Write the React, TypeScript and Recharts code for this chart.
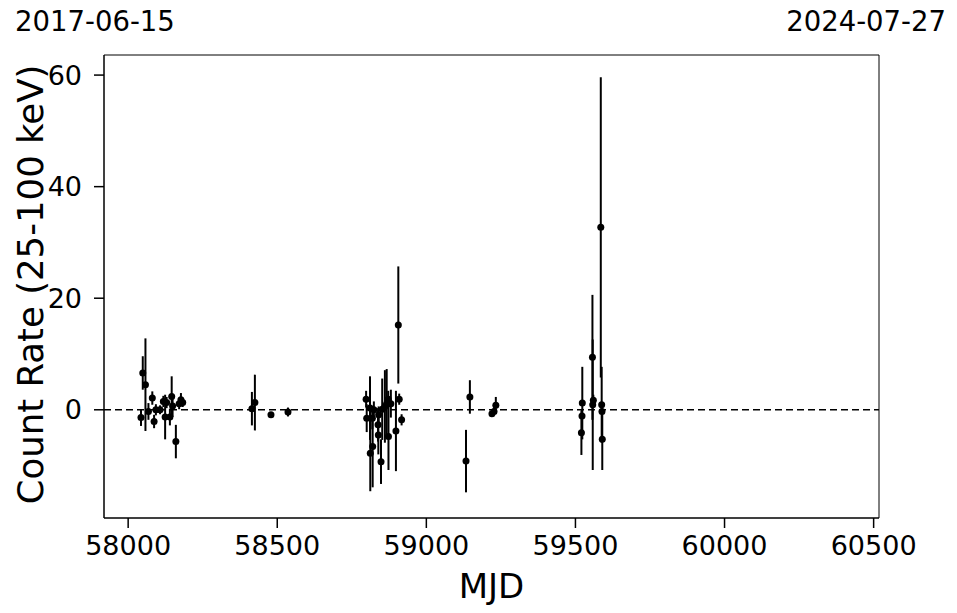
import { ScatterChart, Scatter, XAxis, YAxis, ErrorBar, ReferenceLine, ReferenceArea } from 'recharts';

const mjd = [
  58043, 58049, 58058, 58068, 58081, 58087, 58093, 58107, 58118, 58124, 58129, 58140, 58146, 58149, 58160, 58171, 58177, 58183,
  58415, 58425, 58479, 58536,
  58798, 58800, 58811, 58812, 58819, 58820, 58824, 58838, 58839, 58840, 58848, 58852, 58861, 58867, 58872, 58873, 58881, 58898, 58906, 58909, 58917,
  59133, 59146, 59220, 59227, 59233,
  59520, 59522, 59523, 59557, 59558, 59560, 59585, 59588, 59589, 59590,
];
const rate = [
  -1.4, 6.6, 4.5, -0.3, 2.1, -2.1, 0, 0, 1.5, -1.3, 1.3, -1.3, 2.4, 0.7, -5.7, 1.1, 1.8, 1.3,
  0.2, 1.3, -0.9, -0.4,
  1.9, -1.5, 0.3, -7.8, -1.5, -6.6, 0, -2.7, -4.5, -0.9, -9.3, 0.1, 0.6, 1.1, 1.9, -4.8, 1.1, -3.8, 15.2, 1.9, -1.8,
  -9.2, 2.3, -0.7, -0.3, 0.8,
  -4.1, -1.1, 1.2, 9.4, 0.9, 1.7, 32.7, 0.9, -0.3, -5.3,
];
const rateErr = [
  1.5, 3, 8.3, 1.5, 1.2, 1.2, 1, 0.8, 1, 4, 1, 1.5, 3.6, 2, 3, 1, 1.2, 0.8,
  3, 5, 0.5, 0.8,
  1.5, 2.5, 5.7, 6.8, 2, 7.3, 1.5, 3, 3.5, 1.5, 4, 5.5, 6.5, 6.2, 1.5, 6, 2.5, 7.2, 10.5, 1, 1,
  5.6, 3, 0.6, 0.6, 1.5,
  4, 1.2, 6.5, 11.2, 11.7, 1, 26.9, 6.8, 1, 5.5,
];

const xTicks = [58000, 58500, 59000, 59500, 60000, 60500];
const yTicks = [0, 20, 40, 60];
const dateLabels = ['2017-06-15', '2024-07-27'];

const xDomain = [57919, 60518];
const yDomain = [-19.4, 63.6];

const data = mjd.map((m, i) => ({ mjd: m, rate: rate[i], err: rateErr[i] }));

const font = 'DejaVu Sans, sans-serif';

const Dot = (props: any) => <circle cx={props.cx} cy={props.cy} r={3.5} fill="#000" />;

// rotated y-axis title, centred on the plot area
const YLabel = ({ viewBox }: any) => {
  const cx = 30;
  const cy = viewBox.y + viewBox.height / 2 - 2;
  return (
    <text
      x={cx}
      y={cy}
      transform={`rotate(-90, ${cx}, ${cy})`}
      textAnchor="middle"
      dominantBaseline="central"
      fontSize={35.5}
      fontFamily={font}
      fill="#000"
    >
      Count Rate (25-100 keV)
    </text>
  );
};

const App = () => {
  return (
    <div style={{ position: 'absolute', left: 0, top: 0, width: 957, height: 613, background: '#fff', fontFamily: font }}>
      <div style={{ position: 'absolute', left: 15, top: 5, fontSize: 27.5, color: '#000' }}>{dateLabels[0]}</div>
      <div style={{ position: 'absolute', right: 11, top: 5, fontSize: 27.5, color: '#000' }}>{dateLabels[1]}</div>
      <ScatterChart width={957} height={613} margin={{ top: 55, right: 78, bottom: 0, left: 0 }}>
        <XAxis
          type="number"
          dataKey="mjd"
          domain={xDomain}
          allowDataOverflow
          ticks={xTicks}
          height={95}
          tickSize={10}
          tickMargin={8}
          tick={{ fontSize: 27, fill: '#000', fontFamily: font }}
          axisLine={{ stroke: '#000', strokeWidth: 1 }}
          tickLine={{ stroke: '#000', strokeWidth: 1.5 }}
          label={{ value: 'MJD', position: 'insideBottom', offset: 15, fontSize: 34, fill: '#000', fontFamily: font }}
        />
        <YAxis
          type="number"
          dataKey="rate"
          domain={yDomain}
          allowDataOverflow
          ticks={yTicks}
          width={104}
          tickSize={10}
          tickMargin={12}
          tick={{ fontSize: 27, fill: '#000', fontFamily: font }}
          axisLine={{ stroke: '#000', strokeWidth: 1 }}
          tickLine={{ stroke: '#000', strokeWidth: 1.5 }}
          label={<YLabel />}
        />
        <ReferenceArea x1={xDomain[0]} x2={xDomain[1]} y1={yDomain[0]} y2={yDomain[1]} fill="none" fillOpacity={0} stroke="#000" strokeWidth={1} />
        <ReferenceLine y={0} stroke="#000" strokeWidth={1.5} strokeDasharray="7 4" />
        <Scatter data={data} shape={Dot} isAnimationActive={false}>
          <ErrorBar dataKey="err" direction="y" width={0} stroke="#000" strokeWidth={2} isAnimationActive={false} />
        </Scatter>
      </ScatterChart>
    </div>
  );
};

export default App;
